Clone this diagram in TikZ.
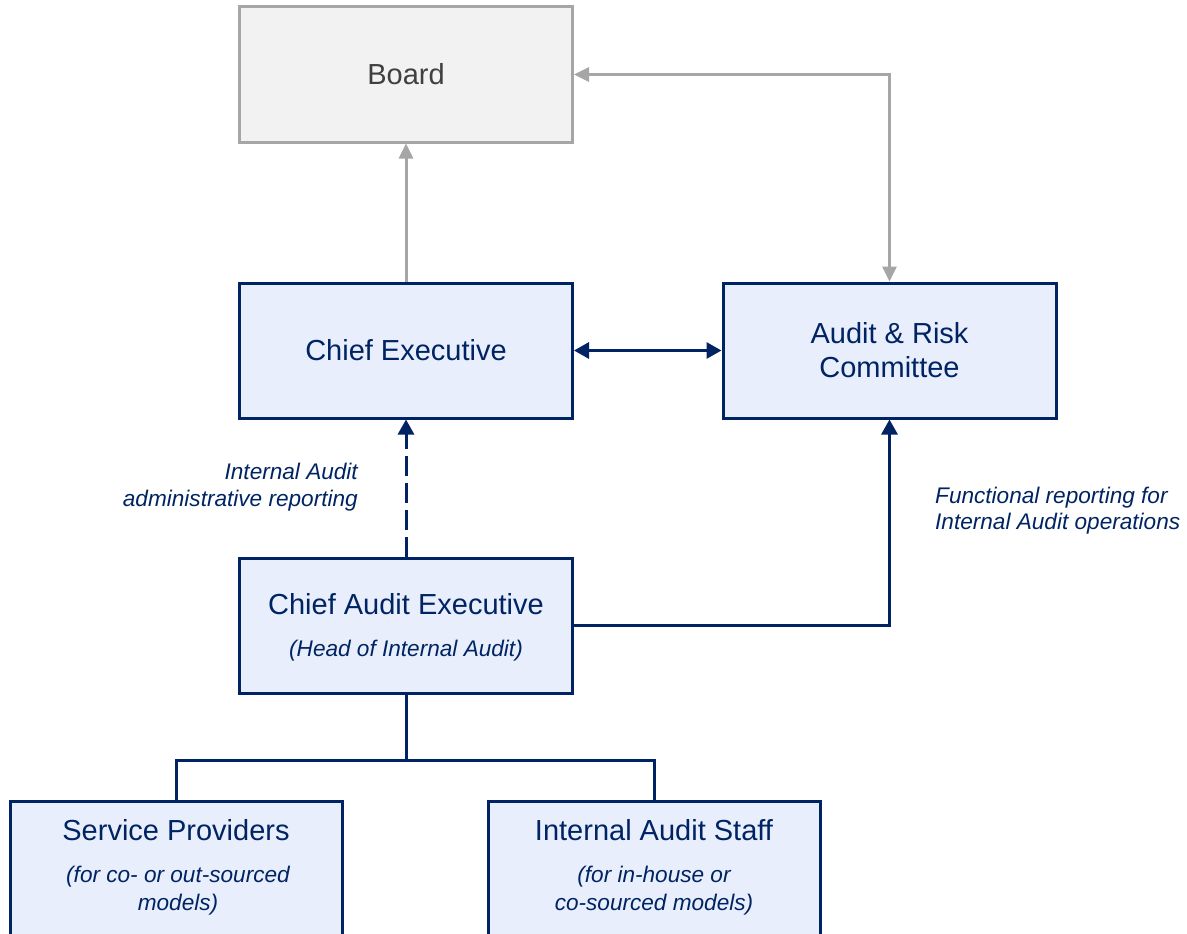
\documentclass[tikz,border=0pt]{standalone}
\usepackage{fontspec}
\setmainfont{Liberation Sans}
\usetikzlibrary{arrows.meta}

\definecolor{navy}{RGB}{0,36,99}
\definecolor{boxfill}{RGB}{232,238,251}
\definecolor{boardfill}{RGB}{242,242,242}
\definecolor{boardline}{RGB}{166,166,166}
\definecolor{boardtext}{RGB}{64,64,64}

\tikzset{
  orgbox/.style={draw=navy, fill=boxfill, line width=3pt, rectangle,
    minimum width=333pt, minimum height=135pt, inner sep=0pt,
    text=navy, align=center, font=\fontsize{29}{34}\selectfont},
  boardbox/.style={orgbox, draw=boardline, fill=boardfill, text=boardtext},
  boxtitle/.style={inner sep=0pt, text=navy, font=\fontsize{29}{34}\selectfont},
  boxnote/.style={inner sep=0pt, text=navy, align=center,
    font=\itshape\fontsize{22.6}{28}\selectfont},
  sidenote/.style={inner sep=0pt, text=navy,
    font=\itshape\fontsize{22.6}{26.5}\selectfont},
  navytip/.tip={Triangle[length=15pt,width=16pt]},
  graytip/.tip={Triangle[length=15pt,width=14pt]},
  navyline/.style={draw=navy, line width=3pt},
  navyarrow/.style={navyline, -navytip},
  grayarrow/.style={draw=boardline, line width=3pt, -graytip},
}

\begin{document}
\begin{tikzpicture}[x=1pt, y=-1pt]
  \useasboundingbox (0,0) rectangle (1187,934);
  \clip (0,0) rectangle (1187,934);

  % top tier
  \node[boardbox] (board) at (406,74.5) {Board};
  \node[orgbox] (ce)  at (406,350.5) {Chief Executive};
  \node[orgbox] (arc) at (889.5,350.5) {Audit \& Risk\\Committee};

  % head of internal audit
  \node[orgbox] (cae) at (406,625.5) {};
  \node[boxtitle] (caetitle) at (406,604) {Chief Audit Executive};
  \node[boxnote]  (caenote)  at (406,651) {(Head of Internal Audit)};

  % resourcing models (boxes run past the lower edge)
  \node[orgbox, minimum width=332pt, minimum height=180pt, anchor=north] (sp)  at (176,800) {};
  \node[orgbox, minimum width=332pt, minimum height=180pt, anchor=north] (ias) at (654,800) {};
  \node[boxtitle] (sptitle)  at (176,830) {Service Providers};
  \node[boxnote]  (spnote)   at (178,891) {(for co- or out-sourced\\models)};
  \node[boxtitle] (iastitle) at (654,830) {Internal Audit Staff};
  \node[boxnote]  (iasnote)  at (654,891) {(for in-house or\\co-sourced models)};

  % reporting lines to the board
  \draw[grayarrow] (ce.north) -- (ce.north |- board.south);
  \draw[grayarrow, graytip-graytip] (board.east) -| (arc.north);

  % executive and committee
  \draw[navyline, navytip-navytip] (ce.east) -- (arc.west);

  % administrative and functional reporting
  \draw[navyarrow, dash pattern=on 20pt off 7pt] (cae.north) -- (ce.south);
  \draw[navyarrow] (cae.east) -| (arc.south);

  \node[sidenote, anchor=east, align=right] (adminlbl) at (358,487)
    {Internal Audit\\administrative reporting};
  \node[sidenote, anchor=west, align=left] (funclbl) at (935,510.5)
    {Functional reporting for\\Internal Audit operations};

  % team structure
  \coordinate (split) at (406,760);
  \draw[navyline] (cae.south) -- (split) -| (sp.north);
  \draw[navyline] (split) -| (ias.north);
\end{tikzpicture}
\end{document}
